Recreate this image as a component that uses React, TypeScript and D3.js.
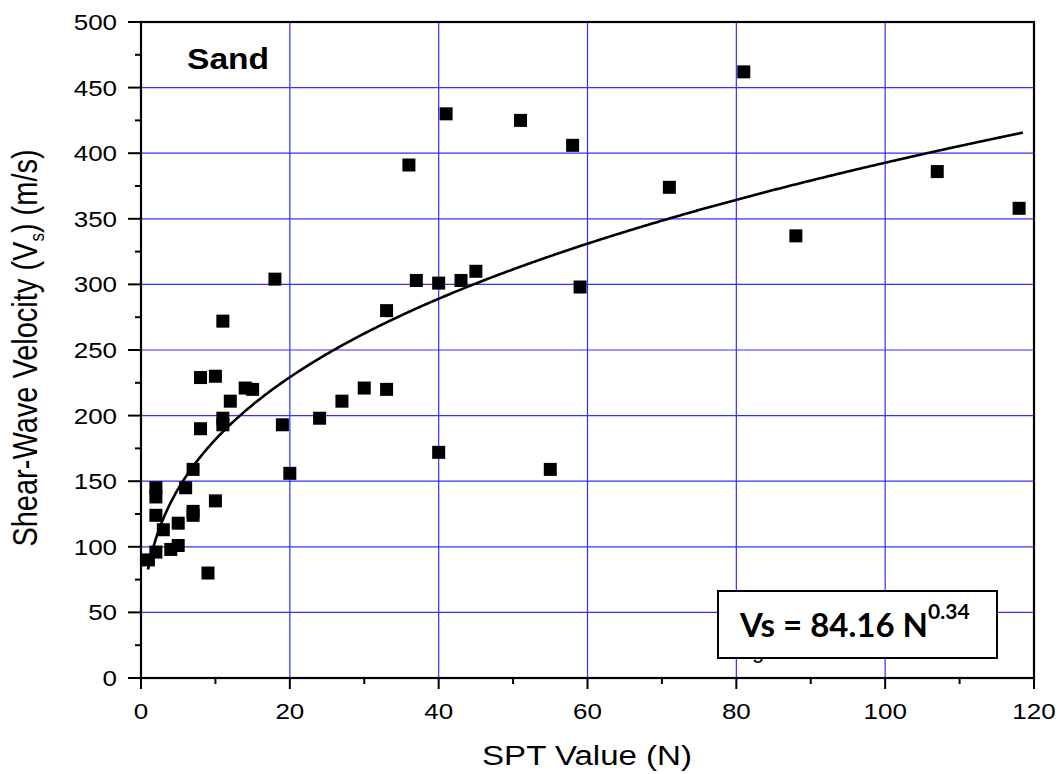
import React from "react";
import * as d3 from "d3";

// SPT blow count (N) and measured shear-wave velocity Vs (m/s)
const sptN = [1, 2, 2, 2, 2, 3, 4, 5, 5, 6, 7, 7, 7, 8, 8, 9, 10, 10, 11, 11, 11, 12, 14, 15, 18, 19, 20, 24, 27, 30, 33, 33, 36, 37, 40, 40, 41, 43, 45, 51, 55, 58, 59, 71, 81, 88, 107, 118];
const vsVal = [90, 145, 138, 124, 96, 113, 98, 118, 101, 145, 159, 127, 124, 229, 190, 80, 230, 135, 272, 198, 193, 211, 221, 220, 304, 193, 156, 198, 211, 221, 280, 220, 391, 303, 301, 172, 430, 303, 310, 425, 159, 406, 298, 374, 462, 337, 386, 358];

// power-law fit  Vs = a * N^b
const fitA = 84.16;
const fitB = 0.3345;
const fitRange = [0.95, 118.5];

const xTicks = [0, 20, 40, 60, 80, 100, 120];
const xMinor = [10, 30, 50, 70, 90, 110];
const yTicks = [0, 50, 100, 150, 200, 250, 300, 350, 400, 450, 500];
const yMinor = [25, 75, 125, 175, 225, 275, 325, 375, 425, 475];

export default function App() {
  const W = 1064, H = 774;
  const x = d3.scaleLinear().domain([0, 120]).range([141, 1034]);
  const y = d3.scaleLinear().domain([0, 500]).range([678, 22]);
  const font = "'Liberation Sans', Arial, sans-serif";
  const sx = 1.18;

  const curveN = d3.range(fitRange[0], fitRange[1], 0.25).concat([fitRange[1]]);
  const line = d3
    .line<number>()
    .x((n) => x(n))
    .y((n) => y(fitA * Math.pow(n, fitB)));

  const grid = "#3030ff";
  const ms = 13;

  return (
    <svg width={W} height={H} style={{ position: "absolute", left: 0, top: 0, background: "#fff" }}>
      <rect x={0} y={0} width={W} height={H} fill="#fff" />
      {/* grid */}
      {xTicks.slice(1, -1).map((v) => (
        <line key={"gx" + v} x1={x(v)} x2={x(v)} y1={y(0)} y2={y(500)} stroke={grid} strokeWidth={1.2} />
      ))}
      {yTicks.slice(1, -1).map((v) => (
        <line key={"gy" + v} x1={x(0)} x2={x(120)} y1={y(v)} y2={y(v)} stroke={grid} strokeWidth={1.2} />
      ))}

      {/* hidden legend text peeking below box */}
      <text x={752} y={658} fontFamily={font} fontSize={22} fill="#000">g</text>

      {/* fit curve */}
      <path d={line(curveN) || ""} fill="none" stroke="#000" strokeWidth={2.6} />

      {/* points */}
      {sptN.map((n, i) => (
        <rect key={"p" + i} x={x(n) - ms / 2} y={y(vsVal[i]) - ms / 2} width={ms} height={ms} fill="#000" />
      ))}

      {/* frame */}
      <rect x={x(0)} y={y(500)} width={x(120) - x(0)} height={y(0) - y(500)} fill="none" stroke="#000" strokeWidth={2.2} />

      {/* x ticks */}
      {xTicks.map((v) => (
        <line key={"xt" + v} x1={x(v)} x2={x(v)} y1={y(0)} y2={y(0) + 11} stroke="#000" strokeWidth={2} />
      ))}
      {xMinor.map((v) => (
        <line key={"xm" + v} x1={x(v)} x2={x(v)} y1={y(0)} y2={y(0) + 6} stroke="#000" strokeWidth={2} />
      ))}
      {xTicks.map((v) => (
        <text key={"xl" + v} transform={`translate(${x(v)},719) scale(${sx},1)`} textAnchor="middle" fontFamily={font} fontSize={22} fill="#000">
          {v}
        </text>
      ))}

      {/* y ticks */}
      {yTicks.map((v) => (
        <line key={"yt" + v} x1={x(0) - 13} x2={x(0)} y1={y(v)} y2={y(v)} stroke="#000" strokeWidth={2} />
      ))}
      {yMinor.map((v) => (
        <line key={"ym" + v} x1={x(0) - 6} x2={x(0)} y1={y(v)} y2={y(v)} stroke="#000" strokeWidth={2} />
      ))}
      {yTicks.map((v) => (
        <text key={"yl" + v} transform={`translate(117,${y(v) + 8}) scale(${sx},1)`} textAnchor="end" fontFamily={font} fontSize={22} fill="#000">
          {v}
        </text>
      ))}

      {/* axis titles */}
      <text transform={`translate(587,765) scale(${sx},1)`} textAnchor="middle" fontFamily={font} fontSize={28} fill="#000">
        SPT Value (N)
      </text>
      <text transform={`translate(37,348) scale(${sx},1) rotate(-90)`} textAnchor="middle" fontFamily={font} fontSize={29} fill="#000">
        Shear-Wave Velocity (V<tspan fontSize={17} dy={6}>s</tspan><tspan dy={-6}>) (m/s)</tspan>
      </text>

      {/* panel label */}
      <text transform={`translate(187,69) scale(1.12,1)`} fontFamily={font} fontWeight="bold" fontSize={30} fill="#000">
        Sand
      </text>

      {/* equation box */}
      <rect x={718} y={591} width={279} height={67} fill="#fff" stroke="#000" strokeWidth={2} />
      <text x={740} y={637} fontFamily="Lato, 'Open Sans', sans-serif" fontWeight="bold" fontSize={33} fill="#000">
        Vs = 84.16 N<tspan fontSize={21} dy={-18}>0.34</tspan>
      </text>
    </svg>
  );
}
